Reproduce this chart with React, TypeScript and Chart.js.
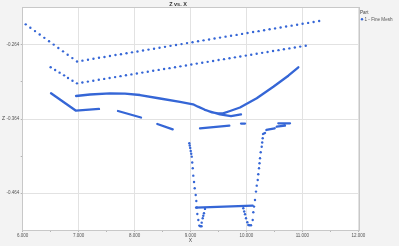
import React, { useEffect, useRef } from 'react';
import { Chart, registerables } from 'chart.js';

Chart.register(...registerables);

const BLUE = '#3566d6';

const titleText = 'Z vs. X';
const xTitle = 'X';
const yTitle = 'Z';
const legendTitle = 'Part';
const seriesName = '1 - Fine Mesh';

const xMajorTicks = [6, 7, 8, 9, 10, 11, 12];
const xMinorTicks = [6.5, 7.5, 8.5, 9.5, 10.5, 11.5];
const yMajorTicks = [-0.464, -0.364, -0.264];
const yMinorTicks = [-0.414, -0.314];

// dotted series (individual points)
const topDotsX = [6.054, 6.137, 6.22, 6.304, 6.387, 6.471, 6.554, 6.637, 6.721, 6.804, 6.888, 6.971, 7.068, 7.167, 7.265, 7.364, 7.462, 7.56, 7.659, 7.757, 7.856, 7.954, 8.052, 8.151, 8.249, 8.348, 8.446, 8.544, 8.643, 8.741, 8.84, 8.938, 9.036, 9.135, 9.233, 9.332, 9.43, 9.528, 9.627, 9.725, 9.824, 9.922, 10.02, 10.119, 10.217, 10.316, 10.414, 10.512, 10.611, 10.709, 10.808, 10.906, 11.004, 11.103, 11.201, 11.3];
const topDotsZ = [-0.2365, -0.2411, -0.2456, -0.2502, -0.2547, -0.2593, -0.2638, -0.2684, -0.2729, -0.2775, -0.282, -0.2866, -0.2854, -0.2841, -0.2829, -0.2816, -0.2804, -0.2792, -0.2779, -0.2767, -0.2754, -0.2742, -0.273, -0.2717, -0.2705, -0.2693, -0.268, -0.2668, -0.2655, -0.2643, -0.2631, -0.2618, -0.2606, -0.2593, -0.2581, -0.2569, -0.2556, -0.2544, -0.2531, -0.2519, -0.2507, -0.2494, -0.2482, -0.2469, -0.2457, -0.2445, -0.2432, -0.242, -0.2408, -0.2395, -0.2383, -0.237, -0.2358, -0.2346, -0.2333, -0.2321];

const midDotsX = [6.5, 6.58, 6.66, 6.74, 6.81, 6.89, 6.97, 7.067, 7.165, 7.262, 7.36, 7.457, 7.554, 7.652, 7.749, 7.846, 7.944, 8.041, 8.139, 8.236, 8.333, 8.431, 8.528, 8.625, 8.723, 8.82, 8.918, 9.015, 9.112, 9.21, 9.307, 9.404, 9.502, 9.599, 9.697, 9.794, 9.891, 9.989, 10.086, 10.183, 10.281, 10.378, 10.476, 10.573, 10.67, 10.768, 10.865, 10.962, 11.06];
const midDotsZ = [-0.2944, -0.298, -0.3016, -0.3052, -0.3088, -0.3124, -0.316, -0.3148, -0.3136, -0.3124, -0.3112, -0.31, -0.3088, -0.3076, -0.3063, -0.3051, -0.3039, -0.3027, -0.3015, -0.3003, -0.2991, -0.2979, -0.2967, -0.2955, -0.2943, -0.2931, -0.2919, -0.2906, -0.2894, -0.2882, -0.287, -0.2858, -0.2846, -0.2834, -0.2822, -0.281, -0.2798, -0.2786, -0.2774, -0.2762, -0.2749, -0.2737, -0.2725, -0.2713, -0.2701, -0.2689, -0.2677, -0.2665, -0.2653];

const vLeftX = [8.979, 8.986, 8.995, 9.004, 9.013, 9.022, 9.031, 9.04, 9.05, 9.063, 9.075, 9.093, 9.104, 9.113, 9.122, 9.14, 9.158, 9.175, 9.197, 9.2, 9.218, 9.229, 9.241, 9.259];
const vLeftZ = [-0.3967, -0.3997, -0.403, -0.4071, -0.4109, -0.4147, -0.4225, -0.4304, -0.4403, -0.4488, -0.4573, -0.4663, -0.4744, -0.4831, -0.4919, -0.5, -0.5076, -0.5084, -0.5084, -0.5036, -0.4977, -0.4943, -0.4909, -0.4851];

const vRightX = [9.944, 9.96, 9.975, 9.992, 10.016, 10.034, 10.055, 10.082, 10.112, 10.123, 10.136, 10.153, 10.171, 10.184, 10.202, 10.212, 10.225, 10.234, 10.243, 10.255, 10.273, 10.282, 10.291];
const vRightZ = [-0.4842, -0.4885, -0.4923, -0.4977, -0.503, -0.5067, -0.5071, -0.5071, -0.5, -0.4896, -0.482, -0.473, -0.4618, -0.4538, -0.4461, -0.4384, -0.4304, -0.4236, -0.4169, -0.4088, -0.4013, -0.3956, -0.39];

// dense runs of points (drawn as connected runs), null = break
const curveX = [
  6.506, 6.953, 7.364, null,
  6.953, 7.203, 7.561, 7.829, 8.097, 8.455, 8.812, 9.045, 9.134, 9.259, 9.384, 9.492, 9.581, 9.707, 9.885, 10.184, 10.481, 10.749, 10.928, null,
  9.259, 9.527, 9.724, 9.903, null,
  7.704, 8.115, null,
  8.407, 8.682, null,
  9.17, 9.694, null,
  9.903, 9.975, null,
  9.098, 10.112, null,
  10.296, 10.332, null,
  10.357, 10.505, null,
  10.541, 10.689, null,
  10.57, 10.779,
];
const curveZ = [
  -0.3294, -0.3528, -0.3505, null,
  -0.333, -0.331, -0.3294, -0.3297, -0.3317, -0.3364, -0.3409, -0.3442, -0.3474, -0.3516, -0.355, -0.3565, -0.3563, -0.3532, -0.3485, -0.3361, -0.3205, -0.3057, -0.2944, null,
  -0.3519, -0.3579, -0.36, -0.3579, null,
  -0.3532, -0.362, null,
  -0.3707, -0.3779, null,
  -0.3765, -0.373, null,
  -0.3701, -0.3701, null,
  -0.4834, -0.4807, null,
  -0.3842, -0.3829, null,
  -0.3788, -0.3765, null,
  -0.3744, -0.373, null,
  -0.3698, -0.3698,
];

const toPoints = (xs: (number | null)[], zs: (number | null)[]) =>
  xs.map((x, i) => ({ x: x === null ? NaN : x, y: zs[i] === null ? NaN : (zs[i] as number) }));

const near = (v: number, list: number[]) => list.some((t) => Math.abs(t - v) < 1e-6);

const FONT = 'Liberation Sans, Arial, sans-serif';

export default function App() {
  const ref = useRef<HTMLCanvasElement | null>(null);

  useEffect(() => {
    if (!ref.current) return;
    const deco = {
      id: 'deco',
      beforeDraw(chart: any) {
        const { ctx, chartArea: a } = chart;
        ctx.save();
        ctx.fillStyle = '#ffffff';
        ctx.fillRect(a.left, a.top, a.right - a.left, a.bottom - a.top);
        ctx.restore();
      },
      afterDraw(chart: any) {
        const { ctx, chartArea: a } = chart;
        ctx.save();
        ctx.strokeStyle = '#c8c8c8';
        ctx.lineWidth = 1;
        ctx.strokeRect(Math.round(a.left) - 0.5, Math.round(a.top) - 0.5, Math.round(a.right - a.left) + 1, Math.round(a.bottom - a.top) + 1);
        ctx.fillStyle = '#333';
        ctx.textAlign = 'center';
        ctx.textBaseline = 'middle';
        ctx.font = `bold 5.5px ${FONT}`;
        ctx.fillText(titleText, 178, 4);
        ctx.font = `5px ${FONT}`;
        ctx.fillStyle = '#444';
        ctx.fillText(xTitle, (a.left + a.right) / 2, 241);
        ctx.textAlign = 'left';
        ctx.fillText(yTitle, 2, (a.top + a.bottom) / 2);
        // legend
        ctx.font = `4.6px ${FONT}`;
        ctx.fillStyle = '#444';
        ctx.fillText(legendTitle, 360, 12.5);
        ctx.fillStyle = BLUE;
        ctx.beginPath();
        ctx.arc(362, 19.3, 1.2, 0, Math.PI * 2);
        ctx.fill();
        ctx.fillStyle = '#555';
        ctx.fillText(seriesName, 364.5, 19.5);
        ctx.restore();
      },
    };

    const chart = new Chart(ref.current, {
      type: 'scatter',
      data: {
        datasets: [
          {
            label: seriesName,
            data: toPoints(curveX, curveZ),
            showLine: true,
            spanGaps: false,
            borderColor: BLUE,
            borderWidth: 2.3,
            borderCapStyle: 'round',
            borderJoinStyle: 'round',
            pointRadius: 0,
          } as any,
          {
            label: seriesName,
            data: [
              ...toPoints(topDotsX, topDotsZ),
              ...toPoints(midDotsX, midDotsZ),
              ...toPoints(vLeftX, vLeftZ),
              ...toPoints(vRightX, vRightZ),
            ],
            pointRadius: 1.2,
            pointBorderWidth: 0,
            pointBackgroundColor: BLUE,
            backgroundColor: BLUE,
          } as any,
        ],
      },
      options: {
        animation: false,
        responsive: false,
        devicePixelRatio: 1,
        layout: { padding: { left: 0, top: 8, right: 40.7, bottom: 0 } },
        plugins: {
          legend: { display: false },
          title: { display: false },
          tooltip: { enabled: false },
        },
        scales: {
          x: {
            type: 'linear',
            min: 6,
            max: 12,
            afterBuildTicks: (s: any) => {
              s.ticks = [...xMajorTicks, ...xMinorTicks].sort((p, q) => p - q).map((v) => ({ value: v }));
            },
            afterFit: (s: any) => {
              s.height = 16;
            },
            border: { display: false },
            grid: {
              color: (c: any) => (c.tick && near(c.tick.value, xMajorTicks) ? '#e2e2e2' : 'rgba(0,0,0,0)'),
              tickColor: '#b5b5b5',
              tickLength: 2,
              drawTicks: true,
            },
            ticks: {
              autoSkip: false,
              maxRotation: 0,
              padding: 1.5,
              color: '#555',
              font: { size: 4.5, family: FONT },
              callback: (v: any) => (near(Number(v), xMajorTicks) ? Number(v).toFixed(3) : ''),
            },
          },
          y: {
            type: 'linear',
            min: -0.5135,
            max: -0.2145,
            afterBuildTicks: (s: any) => {
              s.ticks = [...yMajorTicks, ...yMinorTicks].sort((p, q) => p - q).map((v) => ({ value: v }));
            },
            afterFit: (s: any) => {
              s.width = 22.7;
            },
            border: { display: false },
            grid: {
              color: (c: any) => (c.tick && near(c.tick.value, yMajorTicks) ? '#e2e2e2' : 'rgba(0,0,0,0)'),
              tickColor: '#b5b5b5',
              tickLength: 2,
              drawTicks: true,
            },
            ticks: {
              autoSkip: false,
              padding: 1.5,
              color: '#555',
              font: { size: 4.5, family: FONT },
              callback: (v: any) => (near(Number(v), yMajorTicks) ? Number(v).toFixed(3) : ''),
            },
          },
        },
      } as any,
      plugins: [deco],
    });
    return () => chart.destroy();
  }, []);

  return (
    <div style={{ position: 'fixed', left: 0, top: 0, width: 399, height: 246, background: '#f3f3f3' }}>
      <canvas ref={ref} width={399} height={246} style={{ width: 399, height: 246, display: 'block' }} />
    </div>
  );
}
